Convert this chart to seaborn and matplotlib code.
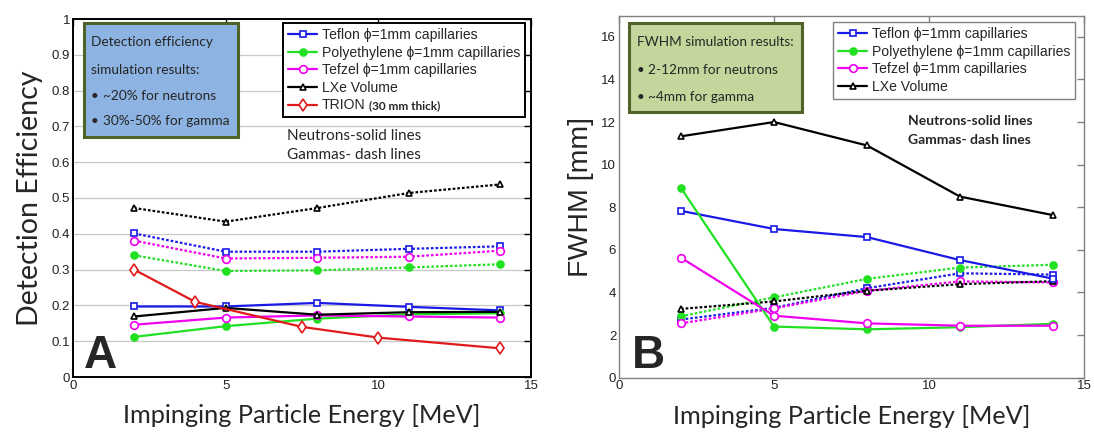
import matplotlib
matplotlib.use("Agg")
import matplotlib.pyplot as plt
import seaborn as sns
from matplotlib.patches import Rectangle

# ---- data -------------------------------------------------------------
energy = [2, 5, 8, 11, 14]
trion_energy = [2, 4, 7.5, 10, 14]

# detection efficiency, neutrons (solid) and gammas (dashed)
eff_n_teflon = [0.197, 0.197, 0.207, 0.196, 0.186]
eff_n_poly = [0.112, 0.142, 0.163, 0.175, 0.178]
eff_n_tefzel = [0.146, 0.166, 0.172, 0.169, 0.166]
eff_n_lxe = [0.169, 0.193, 0.174, 0.181, 0.182]
eff_trion = [0.30, 0.21, 0.14, 0.11, 0.08]
eff_g_teflon = [0.401, 0.350, 0.350, 0.358, 0.365]
eff_g_poly = [0.340, 0.296, 0.298, 0.306, 0.315]
eff_g_tefzel = [0.381, 0.331, 0.333, 0.336, 0.353]
eff_g_lxe = [0.472, 0.434, 0.472, 0.514, 0.538]

# FWHM [mm], neutrons (solid) and gammas (dashed)
fwhm_n_teflon = [7.83, 6.98, 6.60, 5.52, 4.65]
fwhm_n_poly = [8.90, 2.40, 2.27, 2.37, 2.53]
fwhm_n_tefzel = [5.63, 2.91, 2.55, 2.44, 2.44]
fwhm_n_lxe = [11.33, 12.0, 10.9, 8.5, 7.63]
fwhm_g_teflon = [2.73, 3.28, 4.20, 4.90, 4.84]
fwhm_g_poly = [2.88, 3.77, 4.64, 5.17, 5.30]
fwhm_g_tefzel = [2.55, 3.25, 4.08, 4.52, 4.47]
fwhm_g_lxe = [3.23, 3.58, 4.08, 4.39, 4.53]

labels = ["Teflon \u03d5=1mm capillaries",
          "Polyethylene \u03d5=1mm capillaries",
          "Tefzel \u03d5=1mm capillaries",
          "LXe Volume",
          "TRION"]
eff_ticks = [0, 0.1, 0.2, 0.3, 0.4, 0.5, 0.6, 0.7, 0.8, 0.9, 1]
eff_tick_labels = ["0", "0.1", "0.2", "0.3", "0.4", "0.5", "0.6", "0.7", "0.8", "0.9", "1"]
fwhm_ticks = [0, 2, 4, 6, 8, 10, 12, 14, 16]
x_ticks = [0, 5, 10, 15]

# ---- style ------------------------------------------------------------
sns.set_style("white")
plt.rcParams["font.family"] = ["Liberation Sans", "DejaVu Sans"]
CAL = ["Lato", "DejaVu Sans"]
ARIAL = ["Liberation Sans", "DejaVu Sans"]

W, H = 1094, 434
fig = plt.figure(figsize=(W / 100, H / 100), dpi=100)


def fx(px):
    return px / W


def fy(py):
    return 1 - py / H


ax1 = fig.add_axes([fx(73), fy(377), (531 - 73) / W, (377 - 19) / H])
ax2 = fig.add_axes([fx(619), fy(377.7), (1084 - 619) / W, (377.7 - 15.5) / H])

BLUE, GREEN, MAG, BLACK, RED = "#1a1ae6", "#22e022", "#f000f0", "#000000", "#e01a1a"
styles = [
    dict(color=BLUE, marker="s", markersize=5, markerfacecolor="white", markeredgecolor=BLUE),
    dict(color=GREEN, marker="o", markersize=5, markerfacecolor=GREEN, markeredgecolor=GREEN),
    dict(color=MAG, marker="o", markersize=5.5, markerfacecolor="white", markeredgecolor=MAG),
    dict(color=BLACK, marker="^", markersize=5, markerfacecolor="white", markeredgecolor=BLACK),
    dict(color=RED, marker="d", markersize=6, markerfacecolor="white", markeredgecolor=RED),
]
DOT = (0, (1.2, 0.9))
LW = 1.6


def draw(ax, x, y, st, ls):
    sns.lineplot(x=x, y=y, ax=ax, errorbar=None, linestyle=ls, linewidth=LW,
                 markeredgewidth=1.2, **st)
    return ax.lines[-1]


# ---- panel A: detection efficiency -----------------------------------
for ys, st in zip([eff_g_lxe, eff_g_teflon, eff_g_tefzel, eff_g_poly], [styles[3], styles[0], styles[2], styles[1]]):
    draw(ax1, energy, ys, st, DOT)
hA = []
for ys, st in zip([eff_n_teflon, eff_n_poly, eff_n_tefzel, eff_n_lxe], styles[:4]):
    hA.append(draw(ax1, energy, ys, st, "-"))
hA.append(draw(ax1, trion_energy, eff_trion, styles[4], "-"))

ax1.set_xlim(0, 15)
ax1.set_ylim(0, 1)
ax1.set_yticks(eff_ticks)
ax1.set_yticklabels(eff_tick_labels)
ax1.set_xticks(x_ticks)
ax1.yaxis.grid(True, color="#c8c8c8", linewidth=0.9)
ax1.xaxis.grid(False)
for s in ax1.spines.values():
    s.set_color("black")
    s.set_linewidth(1.4)

# ---- panel B: FWHM ----------------------------------------------------
for ys, st in zip([fwhm_g_teflon, fwhm_g_poly, fwhm_g_tefzel, fwhm_g_lxe], [styles[0], styles[1], styles[2], styles[3]]):
    draw(ax2, energy, ys, st, DOT)
hB = []
for ys, st in zip([fwhm_n_teflon, fwhm_n_poly, fwhm_n_tefzel, fwhm_n_lxe], styles[:4]):
    hB.append(draw(ax2, energy, ys, st, "-"))

ax2.set_xlim(0, 15)
ax2.set_ylim(0, 17)
ax2.set_yticks(fwhm_ticks)
ax2.set_xticks(x_ticks)
ax2.grid(False)
for s in ax2.spines.values():
    s.set_color("#808080")
    s.set_linewidth(1.0)

for ax, tc in [(ax1, "black"), (ax2, "#808080")]:
    ax.tick_params(direction="in", length=5, width=1, color=tc, labelsize=9.5,
                   labelcolor="#222222", top=True, right=True, pad=2)
    ax.set_xlabel("Impinging Particle Energy [MeV]", fontsize=18.2, family=CAL, labelpad=9)

ax1.set_ylabel("Detection Efficiency", fontsize=20.5, family=CAL, labelpad=6)
ax2.set_ylabel("FWHM [mm]", fontsize=20.5, family=ARIAL, labelpad=5)

# ---- legends ----------------------------------------------------------
leg_kw = dict(loc="upper left", bbox_transform=fig.transFigure, borderaxespad=0,
              fancybox=False, framealpha=1, handlelength=2.1, handletextpad=0.3,
              labelspacing=0.26, borderpad=0.35, prop={"family": ARIAL, "size": 10.1})
legA = ax1.legend(hA, labels, bbox_to_anchor=(fx(283), fy(23)), edgecolor="black", **leg_kw)
legA.get_frame().set_linewidth(1.4)
legB = ax2.legend(hB, labels[:4], bbox_to_anchor=(fx(833), fy(22)), edgecolor="#808080", **leg_kw)
legB.get_frame().set_linewidth(1.0)

# ---- note boxes -------------------------------------------------------
def note_box(x0, y0, x1, y1, face):
    fig.add_artist(Rectangle((fx(x0), fy(y1)), fx(x1 - x0), (y1 - y0) / H,
                             transform=fig.transFigure, facecolor=face,
                             edgecolor="#4f6228", linewidth=2.2, zorder=5))


NOTE = 9.8
note_box(84, 23, 238, 137, "#8db3e2")
fig.text(fx(91), fy(42), "Detection efficiency", family=CAL, fontsize=NOTE, va="center", zorder=6)
fig.text(fx(91), fy(70), "simulation results:", family=CAL, fontsize=NOTE, va="center", zorder=6)
for yy, t in [(96, "~20% for neutrons"), (121, "30%-50% for gamma")]:
    fig.text(fx(91), fy(yy), "\u2022", family=CAL, fontsize=NOTE, va="center", zorder=6)
    fig.text(fx(103), fy(yy), t, family=CAL, fontsize=NOTE, va="center", zorder=6)

note_box(629, 23, 802, 112, "#c3d69b")
fig.text(fx(637), fy(42), "FWHM simulation results:", family=CAL, fontsize=NOTE, va="center", zorder=6)
for yy, t in [(70, "2-12mm for neutrons"), (97, "~4mm for gamma")]:
    fig.text(fx(637), fy(yy), "\u2022", family=CAL, fontsize=NOTE, va="center", zorder=6)
    fig.text(fx(648), fy(yy), t, family=CAL, fontsize=NOTE, va="center", zorder=6)

# ---- annotations ------------------------------------------------------
fig.text(fx(287), fy(136), "Neutrons-solid lines", family=CAL, fontsize=11, va="center")
fig.text(fx(287), fy(155), "Gammas- dash lines", family=CAL, fontsize=11, va="center")
fig.text(fx(908), fy(121), "Neutrons-solid lines", family=CAL, fontsize=10, fontweight="bold", va="center")
fig.text(fx(908), fy(140), "Gammas- dash lines", family=CAL, fontsize=10, fontweight="bold", va="center")

fig.text(fx(84), fy(368), "A", family=ARIAL, fontsize=33, fontweight="bold", va="baseline")
fig.text(fx(632), fy(368), "B", family=ARIAL, fontsize=33, fontweight="bold", va="baseline")

# thickness note placed right after the TRION legend entry
fig.canvas.draw()
bb = legA.get_texts()[-1].get_window_extent()
fig.text((bb.x1 + 4) / W, (bb.y0 + bb.y1) / 2 / H, "(30 mm thick)", family=CAL,
         fontsize=8.5, fontweight="bold", va="center", ha="left", zorder=10)

fig.savefig("out.png", dpi=100)
